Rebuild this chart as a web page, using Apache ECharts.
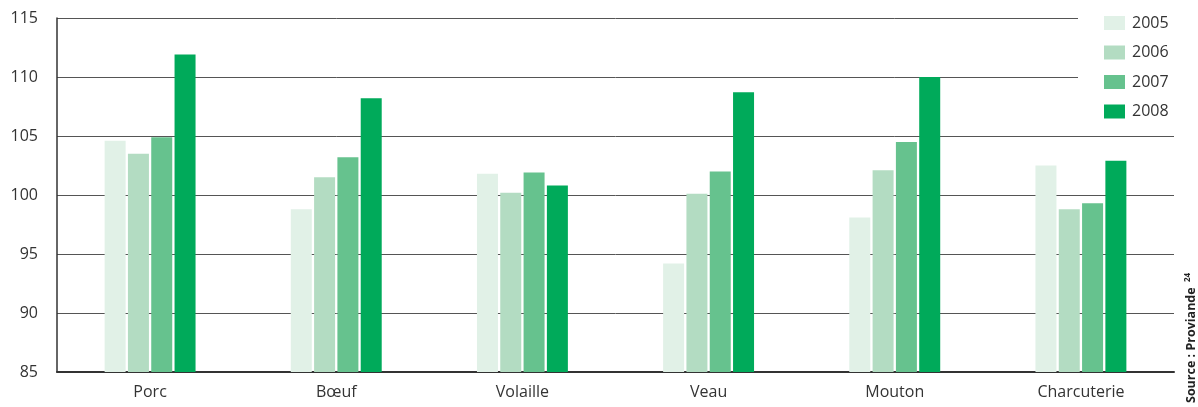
<!DOCTYPE html>
<html>
<head>
<meta charset="utf-8">
<title>Prix viande</title>
<script src="https://cdn.jsdelivr.net/npm/echarts@6/dist/echarts.min.js"></script>
<style>
  html, body { margin: 0; padding: 0; background: #fff; }
  #container { width: 1198px; height: 407px; }
</style>
</head>
<body>
<div id="container"></div>
<script>
var categories = ['Porc', 'Bœuf', 'Volaille', 'Veau', 'Mouton', 'Charcuterie'];
var years = ['2005', '2006', '2007', '2008'];
var v2005 = [104.6, 98.8, 101.8, 94.2, 98.1, 102.5];
var v2006 = [103.5, 101.5, 100.2, 100.1, 102.1, 98.8];
var v2007 = [104.9, 103.2, 101.9, 102.0, 104.5, 99.3];
var v2008 = [111.9, 108.2, 100.8, 108.7, 110.0, 102.9];
var colors = ['#e1f1e7', '#b3dcc2', '#66c28e', '#00aa5a'];

var values = [v2005, v2006, v2007, v2008];
var font = '"Open Sans", "Noto Sans", sans-serif';

var chart = echarts.init(document.getElementById('container'));

var series = years.map(function (y, i) {
    return {
        name: y,
        type: 'bar',
        data: values[i],
        barWidth: 21,
        barGap: '11%',
        itemStyle: { color: colors[i] },
        emphasis: { disabled: true }
    };
});

var option = {
    animation: false,
    textStyle: { fontFamily: font },
    grid: { left: 57, right: 24, top: 18, bottom: 35 },
    legend: {
        orient: 'vertical',
        left: 1078,
        top: 3,
        padding: [12, 10, 12, 26],
        backgroundColor: '#fff',
        itemWidth: 21,
        itemHeight: 14,
        itemGap: 13.5,
        icon: 'rect',
        textStyle: { fontSize: 16, color: '#333', fontFamily: font, padding: [0, 0, 0, 2] },
        data: years,
        z: 10
    },
    xAxis: {
        type: 'category',
        data: categories,
        axisLine: { lineStyle: { color: '#333', width: 2 } },
        axisTick: { show: false },
        axisLabel: { fontSize: 16, color: '#333', margin: 12 }
    },
    yAxis: {
        type: 'value',
        min: 85,
        max: 115,
        interval: 5,
        axisLine: { show: true, lineStyle: { color: '#333', width: 1.5 } },
        axisTick: { show: false },
        axisLabel: { fontSize: 16, color: '#333', margin: 19 },
        splitLine: { lineStyle: { color: '#555', width: 1 } }
    },
    series: series,
    graphic: [{
        type: 'text',
        x: 1191,
        y: 403,
        rotation: Math.PI / 2,
        z: 20,
        style: {
            text: '{a|Source : Proviande }{b|24}',
            align: 'left',
            verticalAlign: 'middle',
            rich: {
                a: { fontSize: 12.5, fontWeight: 'bold', fill: '#222', fontFamily: font },
                b: { fontSize: 8, fontWeight: 'bold', fill: '#222', fontFamily: font, verticalAlign: 'top', padding: [0, 0, 7, 2] }
            }
        }
    }]
};

chart.setOption(option);
</script>
</body>
</html>
